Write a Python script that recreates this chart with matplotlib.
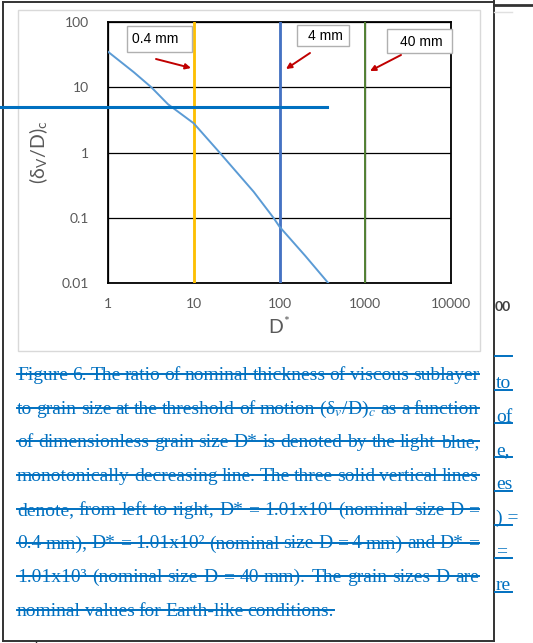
import matplotlib
matplotlib.use('Agg')
import matplotlib.pyplot as plt
from matplotlib.patches import Rectangle

# curve
dstar = [1, 2, 3.2, 5, 10, 20, 50, 85, 100, 200, 370]
ratio = [35, 17, 10, 5.5, 2.8, 1.0, 0.25, 0.1, 0.073, 0.026, 0.01]

x_ticks = [1, 10, 100, 1000, 10000]
x_labels = ['1', '10', '100', '1000', '10000']
y_ticks = [0.01, 0.1, 1, 10, 100]
y_labels = ['0.01', '0.1', '1', '10', '100']

marker_dstar = [10, 100, 1000]
marker_colors = ['#FFC000', '#4472C4', '#548235']
marker_labels = ['0.4 mm', '4 mm', '40 mm']

caption = [
    "Figure 6. The ratio of nominal thickness of viscous sublayer",
    "to grain size at the threshold of motion (δ$_v$/D)$_c$ as a function",
    "of dimensionless grain size D* is denoted by the light blue,",
    "monotonically decreasing line. The three solid vertical lines",
    "denote, from left to right, D* = 1.01x10¹ (nominal size D =",
    "0.4 mm), D* = 1.01x10² (nominal size D = 4 mm) and D* =",
    "1.01x10³ (nominal size D = 40 mm). The grain sizes D are",
    "nominal values for Earth-like conditions.",
]
side_bits = ['to', 'of', 'e,', 'es', ') =', '=', 're']

W, H = 533, 643
plt.rcParams['mathtext.fontset'] = 'stix'
fig = plt.figure(figsize=(W / 100, H / 100), dpi=100, facecolor='white')

# ---- chart axes (pixel box 108..451 x 22..283)
ax = fig.add_axes([108 / W, 1 - 283 / H, 343 / W, 261 / H], zorder=1)
ax.set_xscale('log')
ax.set_yscale('log')
ax.set_xlim(1, 10000)
ax.set_ylim(0.01, 100)
ax.set_xticks(x_ticks, x_labels)
ax.set_yticks(y_ticks, y_labels)
ax.minorticks_off()
ax.tick_params(length=0, labelsize=10, labelcolor='#595959')
ax.tick_params(axis='x', pad=11)
ax.tick_params(axis='y', pad=14)
for lab in ax.get_xticklabels() + ax.get_yticklabels():
    lab.set_family('Lato')
ax.grid(True, color='black', lw=0.9)
for s in ax.spines.values():
    s.set_color('black')
    s.set_linewidth(1.3)
for xv, c in zip(marker_dstar, marker_colors):
    ax.axvline(xv, color=c, lw=2 if c != '#548235' else 1.4, zorder=3)
ax.plot(dstar, ratio, color='#5B9BD5', lw=1.4, zorder=4)
ax.set_xlabel('D$^{\\mathregular{*}}$', fontsize=14, color='#595959',
              family='Lato', labelpad=4)
ax.set_ylabel('(δ$_\\mathregular{V}$/D)$_\\mathregular{c}$', fontsize=14,
              color='#595959', family='Lato', labelpad=8)

# ---- overlay in pixel coordinates
ov = fig.add_axes([0, 0, 1, 1], zorder=2, facecolor='none')
ov.set_xlim(0, W)
ov.set_ylim(H, 0)
ov.axis('off')

# frames
ov.add_patch(Rectangle((18, 10), 462, 341, fill=False, ec='#D9D9D9', lw=1))
ov.plot([3, 494], [2, 2], color='#333333', lw=1.4)
ov.plot([3, 3], [2, 641], color='#333333', lw=1.4)
ov.plot([494, 494], [0, 641], color='#333333', lw=1.4)
ov.plot([3, 494], [641, 641], color='#333333', lw=1.4)
ov.plot([494, 533], [5, 5], color='#333333', lw=2)
ov.plot([494, 512], [12, 12], color='#E0E0E0', lw=1)
ov.plot([36, 36], [641, 643], color='#333333', lw=1)

# stray blue line
ov.plot([0, 327], [106.7, 106.7], color='#0070C0', lw=2.2)

# labels with arrows
boxes = [(127, 26, 65, 26), (297, 25, 52, 21), (387, 29, 65, 24)]
text_pos = [(132, 39), (308, 36), (400, 42)]
arrows = [((156, 59), (191, 68)), ((310, 53), (286, 69)), ((401, 55), (370, 71))]
for (bx, by, bw, bh), (tx, ty), (a0, a1), lab in zip(boxes, text_pos, arrows, marker_labels):
    ov.add_patch(Rectangle((bx, by), bw, bh, fc='white', ec='#B0B0B0', lw=1))
    ov.text(tx, ty, lab, fontsize=10, family='Liberation Sans', va='center', color='black')
    ov.annotate('', xy=a1, xytext=a0,
                arrowprops=dict(arrowstyle='-|>', color='#C00000', lw=1.4,
                                mutation_scale=8, shrinkA=0, shrinkB=0))

ov.text(495, 307, '00', fontsize=10, color='#404040', family='Lato',
        weight='bold', va='center')

# caption, justified and struck through
r = fig.canvas.get_renderer()
blue = '#0070C0'
x0, x1 = 17, 479
for i, line in enumerate(caption):
    y = 380 + i * 33.7
    words = line.split(' ')
    texts = [ov.text(0, y, w, fontsize=14, family='Liberation Serif',
                     color=blue, va='baseline') for w in words]
    widths = [t.get_window_extent(r).width for t in texts]
    if i == len(caption) - 1:
        gap = 4
    else:
        gap = (x1 - x0 - sum(widths)) / (len(words) - 1)
    x = x0
    for t, w in zip(texts, widths):
        t.set_x(x)
        x += w + gap
    ov.plot([x0, x - gap], [y - 6, y - 6], color=blue, lw=1.4)

# clipped text of the next column
for i, bit in enumerate(side_bits):
    ov.text(496, 388 + i * 33.7, bit, fontsize=14, family='Liberation Serif',
            color=blue, va='baseline')
for i in range(8):
    ov.plot([495, 512], [356 + i * 33.7, 356 + i * 33.7], color=blue, lw=1.4)

fig.savefig('out.png', dpi=100)
